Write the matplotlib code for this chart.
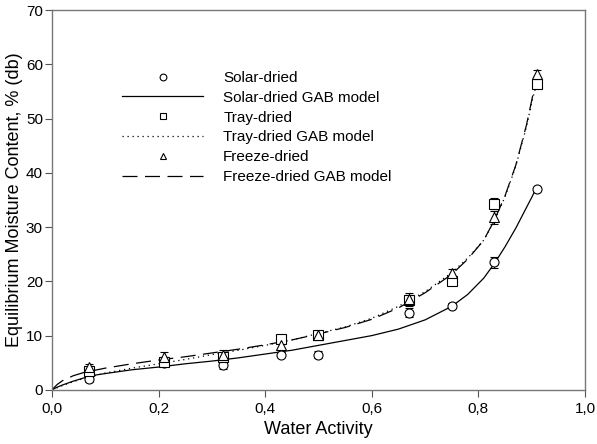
import matplotlib.pyplot as plt
from matplotlib.ticker import FuncFormatter

plt.rcParams['font.family'] = ['Liberation Sans', 'DejaVu Sans']

# measured points
aw = [0.07, 0.21, 0.32, 0.43, 0.50, 0.67, 0.75, 0.83, 0.91]
solar = [2.0, 5.0, 4.5, 6.5, 6.5, 14.2, 15.5, 23.5, 37.0]
solar_err = [0.5, 0.6, 0.6, 0.5, 0.6, 0.8, 0.5, 1.0, 0.4]
tray = [3.5, 5.2, 6.0, 9.3, 10.2, 16.5, 20.0, 34.3, 56.4]
tray_err = [0.6, 0.8, 0.8, 0.6, 0.6, 1.0, 0.6, 1.0, 0.6]
freeze = [4.2, 6.0, 6.5, 8.3, 10.2, 16.8, 21.5, 31.8, 58.3]
freeze_err = [0.6, 1.0, 0.8, 0.6, 0.6, 1.0, 0.8, 1.2, 0.6]

# GAB model curves
aw_model = [0.0, 0.01, 0.02, 0.04, 0.06, 0.08, 0.1, 0.15, 0.2, 0.25, 0.3, 0.35, 0.4,
            0.45, 0.5, 0.55, 0.6, 0.65, 0.7, 0.75, 0.78, 0.81, 0.83, 0.85, 0.87,
            0.89, 0.9, 0.91]
solar_gab = [0.0, 0.5, 0.9, 1.6, 2.2, 2.7, 3.0, 3.7, 4.2, 4.8, 5.3, 5.9, 6.6,
             7.3, 8.2, 9.1, 10.0, 11.2, 12.9, 15.4, 17.6, 20.6, 23.3, 26.4, 29.8,
             33.6, 35.5, 37.5]
tray_gab = [0.0, 0.4, 0.8, 1.5, 2.1, 2.6, 3.1, 4.0, 4.8, 5.6, 6.5, 7.3, 8.2,
            9.2, 10.4, 11.6, 13.2, 15.4, 18.1, 21.6, 24.3, 27.6, 31.2, 35.6, 41.2,
            48.5, 53.0, 56.8]
freeze_gab = [0.0, 1.0, 1.7, 2.6, 3.2, 3.6, 4.0, 4.8, 5.5, 6.1, 6.8, 7.5, 8.3,
              9.2, 10.3, 11.5, 13.0, 15.1, 17.9, 21.3, 24.1, 27.6, 31.3, 35.8, 41.4,
              48.8, 53.4, 58.2]

x_ticks = [0.0, 0.2, 0.4, 0.6, 0.8, 1.0]
y_ticks = [0, 10, 20, 30, 40, 50, 60, 70]


def main():
    fig = plt.figure(figsize=(5.97, 4.44), dpi=100)
    ax = fig.add_axes([0.087, 0.122, 0.893, 0.855])

    mk = dict(mfc='white', mec='black', ms=6.5, mew=0.8, ecolor='black',
              elinewidth=0.8, capsize=3, capthick=0.8, linestyle='none')

    h_s = ax.errorbar(aw, solar, yerr=solar_err, marker='o', **mk)
    l_s, = ax.plot(aw_model, solar_gab, color='black', lw=0.9, ls='-')
    h_t = ax.errorbar(aw, tray, yerr=tray_err, marker='s', **mk)
    l_t, = ax.plot(aw_model, tray_gab, color='black', lw=0.9, ls=(0, (1, 3)))
    h_f = ax.errorbar(aw, freeze, yerr=freeze_err, marker='^', **mk)
    l_f, = ax.plot(aw_model, freeze_gab, color='black', lw=0.9, ls=(0, (12, 6)))

    ax.set_xlim(0, 1.0)
    ax.set_ylim(0, 70)
    ax.set_xticks(x_ticks)
    ax.set_yticks(y_ticks)
    ax.xaxis.set_major_formatter(FuncFormatter(lambda v, p: f"{v:.1f}".replace('.', ',')))
    ax.tick_params(direction='out', length=5, width=0.8, colors='#555555',
                   labelcolor='black', labelsize=11)
    ax.tick_params(axis='y', pad=1.5)
    for s in ax.spines.values():
        s.set_color('#777777')
        s.set_linewidth(1.0)

    ax.set_xlabel("Water Activity", fontsize=13)
    ax.set_ylabel("Equilibrium Moisture Content, % (db)", fontsize=13, labelpad=2)

    handles = [h_s[0], l_s, h_t[0], l_t, h_f[0], l_f]
    labels = ["Solar-dried", "Solar-dried GAB model", "Tray-dried",
              "Tray-dried GAB model", "Freeze-dried", "Freeze-dried GAB model"]
    fig.legend(handles, labels, loc='upper left', bbox_to_anchor=(0.205, 0.84),
               frameon=False, fontsize=11, handlelength=5.3, handletextpad=1.3,
               labelspacing=0.38, borderpad=0, borderaxespad=0, markerscale=0.75)

    fig.savefig("out.png", dpi=100)


if __name__ == "__main__":
    main()
